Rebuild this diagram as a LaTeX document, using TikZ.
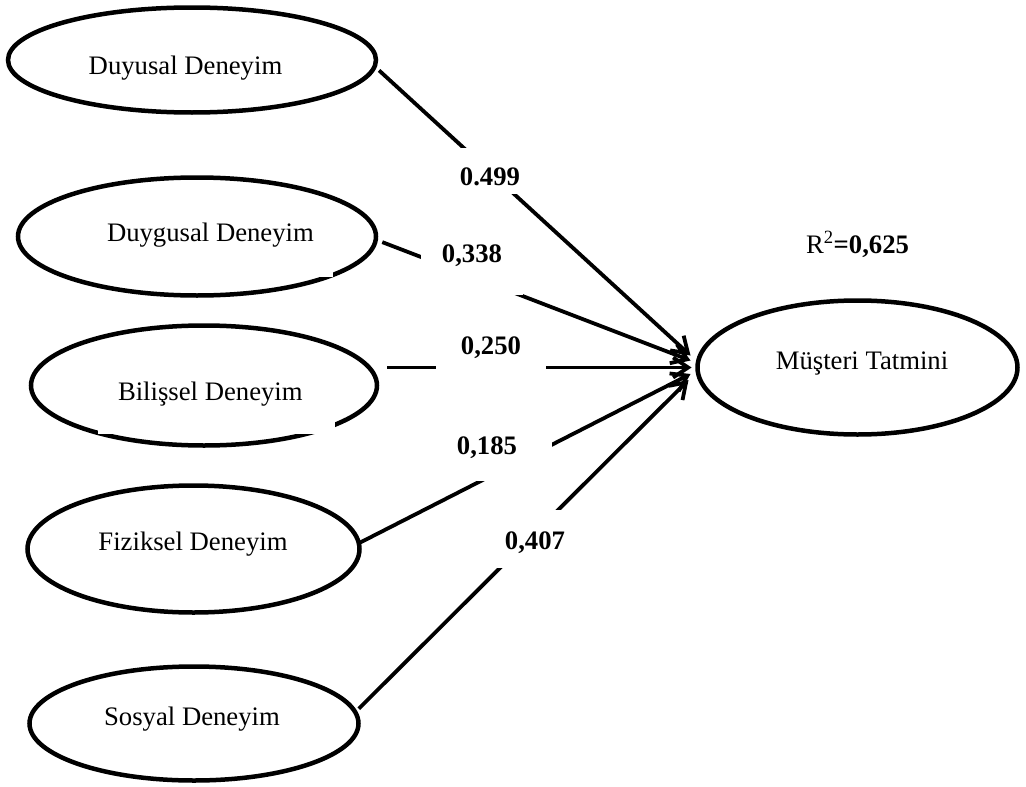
\documentclass[tikz,border=0pt]{standalone}
\usepackage{fontspec}
\setmainfont{Liberation Serif}
\usetikzlibrary{shapes.geometric,arrows.meta}

\begin{document}
\begin{tikzpicture}[x=1pt,y=-1pt,
  oval/.style={ellipse, draw, line width=4.5pt, inner sep=0pt, outer sep=0pt},
  conn/.style={line width=3.8pt, -{Straight Barb[length=15pt,width=20pt]}},
  coef/.style={fill=white, inner sep=0pt, outer sep=0pt, align=center, anchor=base,
    font=\fontsize{26.7}{32}\selectfont\bfseries},
  otext/.style={font=\fontsize{26.7}{32}\selectfont, anchor=base, inner sep=0pt, outer sep=0pt},
  boxtext/.style={otext, fill=white, anchor=base west, inner xsep=10pt, align=flush left},
]
\useasboundingbox (0,0) rectangle (1026,787);

% latent constructs
\node[oval, minimum width=368pt, minimum height=105pt] (dus) at (192,60) {};
\node[oval, minimum width=358pt, minimum height=118pt] (dgs) at (197,236.5) {};
\node[oval, minimum width=346pt, minimum height=120pt] (bil) at (204,385.5) {};
\node[oval, minimum width=332pt, minimum height=127pt] (fiz) at (193.5,549) {};
\node[oval, minimum width=329pt, minimum height=114pt] (sos) at (194,723.5) {};
\node[oval, minimum width=320pt, minimum height=134pt] (mt) at (857.5,367.5) {};

% structural paths
\draw[conn, shorten <=6pt] (dus.-2.5) -- ([shift={(-7pt,12pt)}]mt.west);
\draw[conn, shorten <=7pt] (dgs.-1) -- ([shift={(-7pt,7pt)}]mt.west);
\draw[conn, shorten <=10pt] (bil.east |- mt.west) -- ([shift={(-6pt,0pt)}]mt.west);
\draw[conn, shorten <=1pt] (fiz.2) -- ([shift={(-7pt,-6.5pt)}]mt.west);
\draw[conn, shorten <=5pt] (sos.4.6) -- ([shift={(-9pt,-12.5pt)}]mt.west);

% path coefficients
\node[coef, text width=100pt, text height=37pt, text depth=9pt] (c1) at (490,185) {0.499};
\node[coef, text width=102pt, text height=32pt, text depth=33pt] (c2) at (472,262) {0,338};
\node[coef, text width=110pt, text height=34pt, text depth=31pt] (c3) at (491,354) {0,250};
\node[coef, text width=130pt, text height=34pt, text depth=27pt] (c4) at (487,454) {0,185};
\node[coef, text width=110pt, text height=39pt, text depth=19pt] (c5) at (535,549) {0,407};

% construct labels
\node[otext] (dustxt) at (185.5,74) {Duyusal Deneyim};
\node[boxtext, text width=216pt, text height=30pt, text depth=35pt] (dgstxt) at (97,241.7)
  {\spaceskip=0pt\relax\mbox{Duygusal Deneyim}};
\node[boxtext, inner xsep=20pt, text width=197pt, text height=40pt, text depth=34pt] (biltxt) at (98,400)
  {\spaceskip=0pt\relax\mbox{Bilişsel Deneyim}};
\node[otext] (fiztxt) at (193,550) {Fiziksel Deneyim};
\node[otext] (sostxt) at (192,725) {Sosyal Deneyim};
\node[otext] (mttxt) at (862,369.3) {Müşteri Tatmini};

% explained variance
\node[otext] (rsq) at (857.5,253) {R\textsuperscript{2}\textbf{=0,625}};
\end{tikzpicture}
\end{document}
